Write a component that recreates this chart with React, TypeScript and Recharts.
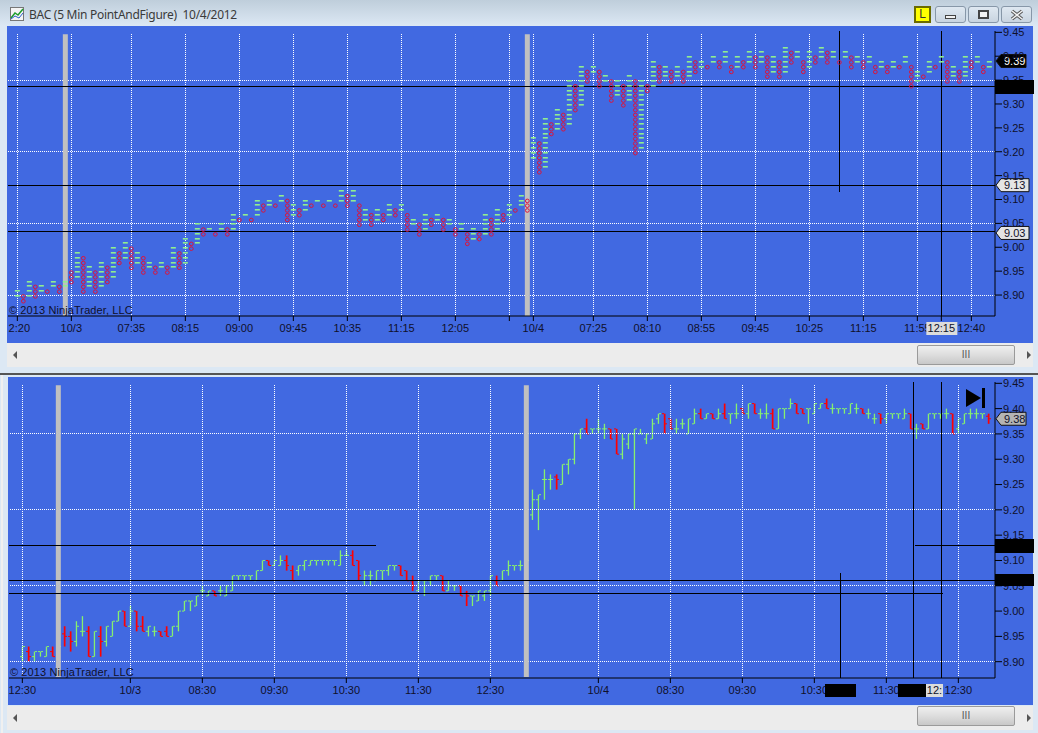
import React from "react";
import {
  Bar,
  ComposedChart,
  ReferenceDot,
  ReferenceLine,
  Scatter,
  ScatterChart,
  XAxis,
  YAxis,
} from "recharts";

// point and figure columns, even index = X column, odd index = O column
const pfLow = [
  8.9, 8.89, 8.9, 8.9, 8.91, 8.91, 8.92, 8.91, 8.92, 8.93, 8.94, 8.91, 8.92, 8.91, 8.92, 8.93, 8.94, 8.97, 8.98, 8.96,
  8.97, 8.95, 8.96, 8.95, 8.96, 8.95, 8.96, 8.96, 8.97, 9.0, 9.01, 9.03, 9.04, 9.03, 9.04, 9.03, 9.04, 9.06, 9.07, 9.06,
  9.07, 9.08, 9.09, 9.09, 9.1, 9.06, 9.07, 9.07, 9.08, 9.09, 9.1, 9.09, 9.1, 9.09, 9.1, 9.09, 9.1, 9.05, 9.06, 9.05,
  9.06, 9.06, 9.07, 9.07, 9.08, 9.04, 9.05, 9.03, 9.04, 9.05, 9.06, 9.04, 9.05, 9.03, 9.04, 9.01, 9.02, 9.02, 9.03, 9.03,
  9.04, 9.06, 9.07, 9.08, 9.09, 9.08, 9.19, 9.16, 9.17, 9.24, 9.25, 9.25, 9.26, 9.29, 9.3, 9.35, 9.37, 9.34, 9.35, 9.31,
  9.32, 9.3, 9.31, 9.2, 9.21, 9.33, 9.34, 9.35, 9.36, 9.35, 9.36, 9.35, 9.36, 9.37, 9.38, 9.38, 9.39, 9.38, 9.39, 9.37,
  9.38, 9.38, 9.39, 9.38, 9.39, 9.36, 9.37, 9.36, 9.37, 9.39, 9.4, 9.37, 9.38, 9.39, 9.4, 9.39, 9.4, 9.39, 9.4, 9.38,
  9.39, 9.38, 9.39, 9.37, 9.38, 9.37, 9.38, 9.38, 9.39, 9.34, 9.35, 9.36, 9.37, 9.38, 9.39, 9.35, 9.36, 9.35, 9.36, 9.38,
  9.39, 9.37, 9.38,
];
const pfHigh = [
  8.91, 8.9, 8.93, 8.92, 8.92, 8.91, 8.93, 8.92, 8.93, 8.95, 8.99, 8.98, 8.96, 8.95, 8.97, 8.96, 9.0, 8.99, 9.01, 9.0,
  8.99, 8.98, 8.97, 8.96, 8.97, 8.96, 9.0, 8.99, 9.02, 9.01, 9.05, 9.04, 9.04, 9.03, 9.05, 9.04, 9.07, 9.06, 9.07, 9.06,
  9.1, 9.09, 9.1, 9.09, 9.11, 9.1, 9.09, 9.08, 9.1, 9.09, 9.1, 9.09, 9.1, 9.09, 9.12, 9.11, 9.12, 9.09, 9.08, 9.07,
  9.08, 9.07, 9.09, 9.08, 9.09, 9.07, 9.06, 9.05, 9.07, 9.06, 9.07, 9.06, 9.06, 9.04, 9.05, 9.03, 9.04, 9.03, 9.07, 9.06,
  9.08, 9.07, 9.09, 9.08, 9.11, 9.1, 9.23, 9.22, 9.27, 9.26, 9.29, 9.28, 9.35, 9.34, 9.38, 9.37, 9.38, 9.37, 9.36, 9.35,
  9.35, 9.34, 9.36, 9.35, 9.35, 9.34, 9.39, 9.38, 9.38, 9.37, 9.38, 9.37, 9.4, 9.39, 9.39, 9.38, 9.4, 9.39, 9.41, 9.38,
  9.4, 9.39, 9.41, 9.4, 9.41, 9.4, 9.4, 9.39, 9.42, 9.41, 9.41, 9.39, 9.41, 9.4, 9.42, 9.41, 9.41, 9.39, 9.41, 9.4,
  9.4, 9.39, 9.4, 9.38, 9.39, 9.38, 9.39, 9.38, 9.4, 9.38, 9.37, 9.36, 9.39, 9.38, 9.4, 9.39, 9.38, 9.37, 9.4, 9.39,
  9.4, 9.38, 9.39,
];
const pfTicks = [0, 9, 19, 28, 37, 46, 55, 64, 73, 82, 86, 96, 105, 114, 123, 132, 141, 150, 154, 159];
const pfTickLabels = ["2:20", "10/3", "07:35", "08:15", "09:00", "09:45", "10:35", "11:15", "12:05", "", "10/4", "07:25", "08:10", "08:55", "09:45", "10:25", "11:15", "11:55", "12:15", "12:40"];
const pfGrid = [0, 9, 19, 28, 37, 46, 55, 64, 73, 82, 86, 96, 105, 114, 123, 132, 141, 150, 159];
const pfSessions = [8, 85];

// 5 minute bars
const barOpen = [
  8.91, 8.92, 8.91, 8.92, 8.91, 8.92, 8.91, 8.955, 8.95, 8.94, 8.96, 8.96, 8.91, 8.95, 8.94, 8.95, 8.98, 9.0, 8.97, 9.0,
  8.97, 8.96, 8.96, 8.96, 8.96, 8.95, 8.97, 9.0, 9.02, 9.01, 9.04, 9.03, 9.04, 9.04, 9.03, 9.04, 9.07, 9.07, 9.07, 9.06,
  9.08, 9.1, 9.09, 9.09, 9.1, 9.08, 9.08, 9.09, 9.09, 9.1, 9.1, 9.1, 9.1, 9.09, 9.11, 9.11, 9.1, 9.06, 9.07, 9.06,
  9.08, 9.08, 9.09, 9.09, 9.08, 9.06, 9.04, 9.06, 9.06, 9.07, 9.07, 9.04, 9.05, 9.05, 9.035, 9.03, 9.02, 9.03, 9.04, 9.06,
  9.06, 9.08, 9.09, 9.09, 9.09, 9.19, 9.22, 9.26, 9.26, 9.265, 9.25, 9.29, 9.3, 9.35, 9.36, 9.36, 9.36, 9.36, 9.36, 9.36,
  9.31, 9.33, 9.35, 9.35, 9.34, 9.34, 9.38, 9.39, 9.38, 9.36, 9.37, 9.35, 9.37, 9.39, 9.38, 9.39, 9.38, 9.39, 9.39, 9.39,
  9.4, 9.39, 9.41, 9.39, 9.39, 9.39, 9.36, 9.4, 9.4, 9.41, 9.4, 9.4, 9.39, 9.4, 9.41, 9.4, 9.4, 9.4, 9.39, 9.4,
  9.4, 9.39, 9.38, 9.39, 9.38, 9.39, 9.39, 9.38, 9.39, 9.36, 9.37, 9.36, 9.39, 9.39, 9.39, 9.39, 9.36, 9.37, 9.39, 9.39,
  9.39, 9.385,
];
const barHigh = [
  8.93, 8.93, 8.92, 8.92, 8.93, 8.93, 8.93, 8.97, 8.96, 8.98, 8.99, 8.97, 8.96, 8.97, 8.97, 8.98, 9.0, 9.0, 9.01, 9.0,
  8.99, 8.97, 8.97, 8.96, 8.97, 8.97, 9.0, 9.02, 9.02, 9.03, 9.05, 9.04, 9.04, 9.05, 9.05, 9.07, 9.07, 9.07, 9.07, 9.08,
  9.1, 9.1, 9.1, 9.11, 9.11, 9.09, 9.09, 9.1, 9.1, 9.1, 9.1, 9.1, 9.1, 9.12, 9.12, 9.12, 9.1, 9.08, 9.08, 9.08,
  9.08, 9.09, 9.09, 9.09, 9.08, 9.07, 9.06, 9.06, 9.07, 9.07, 9.07, 9.06, 9.05, 9.05, 9.04, 9.03, 9.04, 9.04, 9.07, 9.07,
  9.08, 9.1, 9.09, 9.1, 9.11, 9.24, 9.23, 9.28, 9.27, 9.27, 9.29, 9.3, 9.35, 9.36, 9.38, 9.36, 9.38, 9.37, 9.36, 9.36,
  9.35, 9.35, 9.36, 9.36, 9.35, 9.38, 9.39, 9.39, 9.38, 9.38, 9.38, 9.38, 9.4, 9.4, 9.39, 9.39, 9.4, 9.41, 9.39, 9.41,
  9.4, 9.41, 9.41, 9.4, 9.41, 9.4, 9.4, 9.4, 9.42, 9.41, 9.4, 9.4, 9.41, 9.41, 9.42, 9.41, 9.4, 9.4, 9.41, 9.41,
  9.4, 9.4, 9.39, 9.39, 9.39, 9.39, 9.39, 9.4, 9.39, 9.37, 9.37, 9.39, 9.39, 9.39, 9.4, 9.39, 9.38, 9.39, 9.4, 9.4,
  9.39, 9.39,
];
const barLow = [
  8.9, 8.9, 8.9, 8.91, 8.91, 8.91, 8.91, 8.93, 8.92, 8.93, 8.95, 8.91, 8.91, 8.91, 8.93, 8.95, 8.98, 8.97, 8.97, 8.96,
  8.96, 8.95, 8.95, 8.95, 8.95, 8.95, 8.96, 9.0, 9.0, 9.01, 9.03, 9.03, 9.03, 9.03, 9.03, 9.04, 9.06, 9.06, 9.06, 9.06,
  9.08, 9.09, 9.09, 9.09, 9.08, 9.06, 9.07, 9.08, 9.09, 9.09, 9.09, 9.09, 9.09, 9.09, 9.11, 9.09, 9.06, 9.05, 9.05, 9.06,
  9.06, 9.07, 9.08, 9.07, 9.06, 9.04, 9.04, 9.03, 9.05, 9.06, 9.04, 9.04, 9.04, 9.03, 9.01, 9.01, 9.02, 9.02, 9.03, 9.05,
  9.06, 9.07, 9.08, 9.08, 9.08, 9.18, 9.16, 9.22, 9.24, 9.24, 9.25, 9.27, 9.29, 9.34, 9.35, 9.35, 9.35, 9.34, 9.34, 9.31,
  9.3, 9.32, 9.2, 9.35, 9.33, 9.34, 9.37, 9.35, 9.36, 9.35, 9.36, 9.35, 9.37, 9.38, 9.38, 9.38, 9.38, 9.38, 9.37, 9.38,
  9.39, 9.38, 9.39, 9.38, 9.38, 9.36, 9.36, 9.38, 9.4, 9.39, 9.39, 9.37, 9.39, 9.4, 9.4, 9.39, 9.39, 9.39, 9.39, 9.39,
  9.39, 9.38, 9.37, 9.37, 9.37, 9.38, 9.38, 9.38, 9.36, 9.34, 9.36, 9.36, 9.38, 9.38, 9.38, 9.35, 9.35, 9.37, 9.38, 9.38,
  9.38, 9.37,
];
const barClose = [
  8.93, 8.91, 8.92, 8.92, 8.93, 8.91, 8.93, 8.95, 8.94, 8.97, 8.96, 8.91, 8.96, 8.94, 8.97, 8.98, 9.0, 8.97, 9.0, 8.97,
  8.96, 8.97, 8.96, 8.95, 8.95, 8.97, 9.0, 9.02, 9.02, 9.03, 9.04, 9.04, 9.03, 9.04, 9.05, 9.07, 9.07, 9.07, 9.07, 9.08,
  9.1, 9.09, 9.1, 9.1, 9.09, 9.06, 9.09, 9.1, 9.1, 9.1, 9.1, 9.1, 9.1, 9.11, 9.11, 9.09, 9.07, 9.07, 9.07, 9.08,
  9.08, 9.09, 9.09, 9.07, 9.06, 9.05, 9.06, 9.06, 9.07, 9.07, 9.04, 9.05, 9.05, 9.03, 9.03, 9.03, 9.04, 9.04, 9.07, 9.05,
  9.08, 9.09, 9.09, 9.09, 9.1, 9.22, 9.23, 9.26, 9.26, 9.26, 9.29, 9.3, 9.35, 9.36, 9.35, 9.36, 9.36, 9.36, 9.34, 9.31,
  9.34, 9.35, 9.36, 9.35, 9.35, 9.37, 9.39, 9.37, 9.36, 9.36, 9.37, 9.38, 9.39, 9.38, 9.39, 9.38, 9.39, 9.38, 9.39, 9.39,
  9.39, 9.41, 9.39, 9.39, 9.39, 9.36, 9.4, 9.4, 9.41, 9.39, 9.39, 9.4, 9.41, 9.41, 9.4, 9.4, 9.4, 9.4, 9.41, 9.4,
  9.39, 9.39, 9.38, 9.38, 9.39, 9.39, 9.39, 9.39, 9.36, 9.36, 9.36, 9.39, 9.39, 9.39, 9.39, 9.35, 9.38, 9.39, 9.39, 9.39,
  9.39, 9.38,
];
const barTicks = [0, 18, 30, 42, 54, 66, 78, 96, 108, 120, 132, 144, 156];
const barTickLabels = ["12:30", "10/3", "08:30", "09:30", "10:30", "11:30", "12:30", "10/4", "08:30", "09:30", "10:30", "11:30", "12:30"];
const barSessions = [6, 84];

const priceTicks = [8.9, 8.95, 9.0, 9.05, 9.1, 9.15, 9.2, 9.25, 9.3, 9.35, 9.4, 9.45];
const priceGrid = [8.9, 9.05, 9.2, 9.35];

const BLUE = "#4169E1";
const GRAY = "#C0C0C0";
const FONT = "'Liberation Sans', Arial, sans-serif";

const pfX: { col: number; price: number }[] = [];
const pfO: { col: number; price: number }[] = [];
pfLow.forEach((low, col) => {
  const boxes = Math.round((pfHigh[col] - low) * 100);
  for (let b = 0; b <= boxes; b++) {
    const row = { col, price: +(low + b / 100).toFixed(2) };
    if (col % 2 === 0) pfX.push(row);
    else pfO.push(row);
  }
});

const barData = barOpen.map((open, i) => ({
  i,
  open,
  close: barClose[i],
  range: [barLow[i], barHigh[i]],
}));

const XShape = (props: any) => (
  <rect x={props.cx - 2.5} y={Math.round(props.cy)} width={5} height={1.6} fill="#90EE90" />
);

const OShape = (props: any) => (
  <ellipse cx={props.cx} cy={props.cy + 1.4} rx={1.9} ry={1.8} fill="none" stroke="#DC143C" strokeWidth={1} />
);

const OhlcShape = (props: any) => {
  const { x, y, width, height, payload } = props;
  const cx = Math.round(x + width / 2);
  const perUnit = height / (payload.range[1] - payload.range[0]);
  const yOpen = y + (payload.range[1] - payload.open) * perUnit;
  const yClose = y + (payload.range[1] - payload.close) * perUnit;
  const down = payload.close < payload.open;
  const color = down ? "#FF0000" : "#86F06E";
  return (
    <g fill={color}>
      <rect x={cx - 0.2} y={y} width={down ? 1.7 : 1.3} height={height} />
      <rect x={cx - 2} y={yOpen - 0.5} width={2} height={1} />
      <rect x={cx + 1} y={yClose - 0.5} width={2} height={1} />
    </g>
  );
};

const TimeTick = (props: any) => {
  const { x, y, payload, ticks, labels, highlight, firstShift } = props;
  const label = labels[ticks.indexOf(payload.value)];
  return (
    <g>
      {payload.value === highlight && <rect x={x - 15} y={y + 1} width={31} height={13} fill="#DCDCDC" />}
      <text x={x + (payload.value === 0 ? firstShift : 0)} y={y + 11} textAnchor="middle" fontSize={11} fontFamily={FONT} fill="#10102a">
        {label}
      </text>
    </g>
  );
};

const PriceFlag = (props: any) => {
  const { cx, cy, label, bg, ink, span } = props;
  return (
    <g>
      <polygon
        points={`${cx + 1},${cy} ${cx + 6},${cy - 6.5} ${cx + span},${cy - 6.5} ${cx + span},${cy + 6.5} ${cx + 6},${cy + 6.5}`}
        style={{ fill: bg, stroke: "#111", strokeWidth: 1 }}
      />
      <text x={cx + 9} y={cy + 4} fontSize={11} fontFamily={FONT} style={{ fill: ink, stroke: "none" }}>
        {label}
      </text>
    </g>
  );
};

const dotted = { stroke: "#FFFFFF", strokeDasharray: "1 1", strokeWidth: 1, shapeRendering: "crispEdges" as const };
const blackLine = { stroke: "#000000", strokeWidth: 1, shapeRendering: "crispEdges" as const };

const PF_XDOMAIN = [-1.555, 162.945];
const PF_YDOMAIN = [8.8561, 9.4528];
const BAR_XDOMAIN = [-2.22, 162.11];
const BAR_YDOMAIN = [8.8678, 9.4526];

const box = (left: number, top: number, width: number, height: number, background: string): React.CSSProperties => ({
  position: "absolute",
  left,
  top,
  width,
  height,
  background,
});

const Scrollbar = ({ top, thumbTop }: { top: number; thumbTop: number }) => (
  <>
    <div style={box(7, top, 1026, 24, "#ECECEC")} />
    <svg style={{ position: "absolute", left: 7, top, width: 1026, height: 24 }}>
      <polygon points="6,12 10,8 10,16" fill="#555" />
      <polygon points="1020,8 1020,16 1024,12" fill="#555" />
    </svg>
    <div
      style={{
        ...box(917, thumbTop, 98, 20, "linear-gradient(#EFEFEF, #DDDDDD 50%, #C8C8C8)"),
        border: "1px solid #9A9A9A",
        borderRadius: 2,
        boxSizing: "border-box",
        color: "#555",
        fontFamily: FONT,
        fontSize: 10,
        lineHeight: "18px",
        textAlign: "center",
      }}
    >
      III
    </div>
  </>
);

const WinButton = ({ left, children }: { left: number; children: React.ReactNode }) => (
  <div
    style={{
      ...box(left, 6, 31, 17, "linear-gradient(#DFE8F1, #C8D4E0)"),
      border: "1px solid #8797A8",
      borderRadius: 3,
      boxSizing: "border-box",
    }}
  >
    {children}
  </div>
);

export default function App() {
  return (
    <div style={{ position: "absolute", left: 0, top: 0, width: 1038, height: 733, overflow: "hidden", background: "#DCE8F4" }}>
      <div style={box(0, 0, 1038, 26, "linear-gradient(#BFCEDB, #DCE8F4)")} />
      <svg style={{ position: "absolute", left: 10, top: 7, width: 15, height: 15 }}>
        <rect x={0.5} y={0.5} width={13} height={13} fill="#F4F4F4" stroke="#777" />
        <polyline points="1,11 5,6 8,8 13,2" fill="none" stroke="#1C9C2C" strokeWidth={1.5} />
        <polyline points="1,12 5,9 9,11 13,6" fill="none" stroke="#2A5FC8" strokeWidth={1} />
      </svg>
      <div
        style={{
          position: "absolute",
          left: 29,
          top: 6,
          fontFamily: "'Noto Sans', sans-serif",
          fontSize: 12,
          letterSpacing: -0.28,
          color: "#3A3A3A",
          whiteSpace: "pre",
        }}
      >
        BAC (5 Min PointAndFigure)  10/4/2012
      </div>
      <div
        style={{
          ...box(914, 6, 17, 17, "#FFFF00"),
          border: "2px solid #6B6B00",
          boxSizing: "border-box",
          fontFamily: FONT,
          fontSize: 12,
          lineHeight: "13px",
          textAlign: "center",
          color: "#333",
        }}
      >
        L
      </div>
      <WinButton left={935}>
        <div style={{ ...box(9, 8, 11, 4, "#F2F2F2"), border: "1px solid #444", boxSizing: "border-box" }} />
      </WinButton>
      <WinButton left={968}>
        <div style={{ ...box(9, 3, 11, 9, "#F2F2F2"), border: "2px solid #444", boxSizing: "border-box" }} />
      </WinButton>
      <WinButton left={1001}>
        <svg style={{ position: "absolute", left: 8, top: 2, width: 14, height: 12 }}>
          <path d="M2 2 L12 10 M12 2 L2 10" stroke="#555" strokeWidth={3.5} />
          <path d="M2 2 L12 10 M12 2 L2 10" stroke="#F2F2F2" strokeWidth={1.5} />
        </svg>
      </WinButton>

      {/* top panel, point and figure */}
      <div style={box(7, 26, 1026, 317, BLUE)} />
      <div style={{ position: "absolute", left: 7, top: 26 }}>
        <ScatterChart width={1026} height={317} margin={{ top: 5, right: 0, bottom: 0, left: 1 }}>
          <XAxis
            type="number"
            dataKey="col"
            domain={PF_XDOMAIN}
            allowDataOverflow
            ticks={pfTicks}
            interval={0}
            height={27}
            tickSize={5}
            tickMargin={0}
            stroke="#000"
            tick={<TimeTick ticks={pfTicks} labels={pfTickLabels} highlight={154} firstShift={2} />}
          />
          <YAxis
            type="number"
            dataKey="price"
            orientation="right"
            domain={PF_YDOMAIN}
            allowDataOverflow
            ticks={priceTicks}
            interval={0}
            width={38}
            tickSize={7}
            tickMargin={1}
            stroke="#000"
            tick={{ fontSize: 11, fontFamily: FONT, fill: "#10102a" }}
            tickFormatter={(v: number) => v.toFixed(2)}
          />
          {priceGrid.map((p) => (
            <ReferenceLine key={p} y={p} {...dotted} />
          ))}
          {pfGrid.map((c) => (
            <ReferenceLine key={c} segment={[{ x: c, y: 9.446 }, { x: c, y: PF_YDOMAIN[0] }]} {...dotted} />
          ))}
          {pfSessions.map((c) => (
            <ReferenceLine key={c} segment={[{ x: c, y: 9.446 }, { x: c, y: PF_YDOMAIN[0] }]} stroke={GRAY} strokeWidth={5} />
          ))}
          <Scatter name="X" data={pfX} shape={XShape} isAnimationActive={false} />
          <Scatter name="O" data={pfO} shape={OShape} isAnimationActive={false} />
          <ReferenceLine y={9.3364} {...blackLine} />
          <ReferenceLine y={9.13} {...blackLine} />
          <ReferenceLine y={9.033} {...blackLine} />
          <ReferenceLine segment={[{ x: 137, y: PF_YDOMAIN[1] }, { x: 137, y: 9.116 }]} {...blackLine} />
          <ReferenceLine segment={[{ x: 154, y: PF_YDOMAIN[1] }, { x: 154, y: PF_YDOMAIN[0] }]} {...blackLine} />
          <ReferenceDot
            x={PF_XDOMAIN[1]}
            y={9.39}
            r={0}
            shape={<PriceFlag label="9.39" bg="#000" ink="#FFF" span={31} />}
          />
          <ReferenceDot
            x={PF_XDOMAIN[1]}
            y={9.13}
            r={0}
            shape={<PriceFlag label="9.13" bg="#E4E4E4" ink="#10102a" span={34} />}
          />
          <ReferenceDot
            x={PF_XDOMAIN[1]}
            y={9.03}
            r={0}
            shape={<PriceFlag label="9.03" bg="#E4E4E4" ink="#10102a" span={34} />}
          />
        </ScatterChart>
      </div>
      <div style={{ position: "absolute", left: 9, top: 304, fontFamily: FONT, fontSize: 11, letterSpacing: 0.1, color: "#10102a", lineHeight: "13px", whiteSpace: "pre" }}>
        © 2013 NinjaTrader, LLC
      </div>
      <div style={box(995, 80, 39, 14, "#000")} />
      <Scrollbar top={343} thumbTop={345} />

      <div style={box(0, 373, 1038, 2, "#555")} />
      <div style={box(1, 375, 2, 358, "#F0F0F0")} />

      {/* lower panel, 5 minute bars */}
      <div style={box(8, 377, 1025, 328, BLUE)} />
      <div style={{ position: "absolute", left: 8, top: 377 }}>
        <ComposedChart width={1025} height={328} data={barData} margin={{ top: 5, right: 0, bottom: 0, left: 1 }}>
          <XAxis
            type="number"
            dataKey="i"
            domain={BAR_XDOMAIN}
            allowDataOverflow
            ticks={barTicks}
            interval={0}
            height={27}
            tickSize={5}
            tickMargin={0}
            stroke="#000"
            tick={<TimeTick ticks={barTicks} labels={barTickLabels} firstShift={0} />}
          />
          <YAxis
            type="number"
            orientation="right"
            domain={BAR_YDOMAIN}
            allowDataOverflow
            ticks={priceTicks}
            interval={0}
            width={38}
            tickSize={7}
            tickMargin={1}
            stroke="#000"
            tick={{ fontSize: 11, fontFamily: FONT, fill: "#10102a" }}
            tickFormatter={(v: number) => v.toFixed(2)}
          />
          {priceGrid.map((p) => (
            <ReferenceLine key={p} y={p} {...dotted} />
          ))}
          {barTicks.map((c) => (
            <ReferenceLine key={c} segment={[{ x: c, y: 9.446 }, { x: c, y: 8.872 }]} {...dotted} />
          ))}
          {barSessions.map((c) => (
            <ReferenceLine key={c} segment={[{ x: c, y: 9.446 }, { x: c, y: 8.87 }]} stroke={GRAY} strokeWidth={5} />
          ))}
          <Bar dataKey="range" barSize={2} shape={OhlcShape} isAnimationActive={false} />
          <ReferenceLine segment={[{ x: BAR_XDOMAIN[0], y: 9.13 }, { x: 59, y: 9.13 }]} {...blackLine} />
          <ReferenceLine segment={[{ x: 148.7, y: 9.13 }, { x: BAR_XDOMAIN[1], y: 9.13 }]} {...blackLine} />
          <ReferenceLine y={9.0607} {...blackLine} />
          <ReferenceLine segment={[{ x: BAR_XDOMAIN[0], y: 9.035 }, { x: 153.4, y: 9.035 }]} {...blackLine} />
          <ReferenceLine segment={[{ x: 136.3, y: 9.0755 }, { x: 136.3, y: BAR_YDOMAIN[0] }]} {...blackLine} />
          <ReferenceLine segment={[{ x: 148.5, y: BAR_YDOMAIN[1] }, { x: 148.5, y: BAR_YDOMAIN[0] }]} {...blackLine} />
          <ReferenceLine segment={[{ x: 153.2, y: BAR_YDOMAIN[1] }, { x: 153.2, y: BAR_YDOMAIN[0] }]} {...blackLine} />
          <ReferenceDot
            x={BAR_XDOMAIN[1]}
            y={9.38}
            r={0}
            shape={<PriceFlag label="9.38" bg="#B4B4B4" ink="#10102a" span={31} />}
          />
        </ComposedChart>
      </div>
      <div style={{ position: "absolute", left: 10, top: 666, fontFamily: FONT, fontSize: 11, letterSpacing: 0.1, color: "#10102a", lineHeight: "13px", whiteSpace: "pre" }}>
        © 2013 NinjaTrader, LLC
      </div>
      <div style={box(995, 539, 39, 14, "#000")} />
      <div style={box(995, 574, 39, 12, "#000")} />
      <div style={box(825, 684, 31, 13, "#000")} />
      <div style={box(898, 684, 28, 13, "#000")} />
      <div
        style={{
          ...box(926, 684, 17, 13, "#DCDCDC"),
          fontFamily: FONT,
          fontSize: 11,
          lineHeight: "13px",
          color: "#10102a",
          textAlign: "center",
        }}
      >
        12:
      </div>
      <svg style={{ position: "absolute", left: 964, top: 386, width: 24, height: 24 }}>
        <polygon points="2,3 17,12 2,21" fill="#000" />
        <rect x={18} y={2} width={3} height={20} fill="#000" />
      </svg>
      <Scrollbar top={706} thumbTop={706} />
    </div>
  );
}
